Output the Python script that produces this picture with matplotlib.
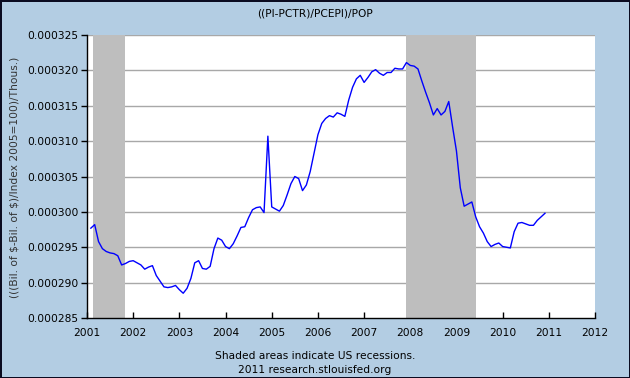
import numpy as np
import pandas as pd
import matplotlib
matplotlib.use("Agg")
import matplotlib.pyplot as plt

# Monthly values, Feb 2001 - Dec 2010
months = pd.period_range("2001-02", "2010-12", freq="M")
values = [
    297.7, 298.2, 295.8, 294.8, 294.4, 294.2, 294.1, 293.8, 292.5, 292.7, 293.0,
    293.1, 292.8, 292.5, 291.9, 292.2, 292.4, 291.0, 290.2, 289.4, 289.3, 289.4, 289.6,
    289.0, 288.5, 289.2, 290.6, 292.8, 293.1, 292.0, 291.9, 292.3, 294.8, 296.3, 296.0,
    295.1, 294.8, 295.5, 296.6, 297.8, 297.9, 299.2, 300.3, 300.6, 300.7, 299.9, 310.7,
    300.7, 300.4, 300.1, 300.9, 302.4, 304.0, 305.0, 304.7, 303.0, 303.8, 305.7, 308.3,
    310.9, 312.5, 313.2, 313.6, 313.4, 314.0, 313.8, 313.5, 315.8, 317.6, 318.8, 319.3,
    318.3, 319.0, 319.8, 320.1, 319.6, 319.3, 319.7, 319.7, 320.3, 320.2, 320.2, 321.1,
    320.7, 320.6, 320.2, 318.5, 316.9, 315.4, 313.7, 314.6, 313.7, 314.2, 315.6, 312.0,
    308.6, 303.4, 300.8, 301.1, 301.4, 299.3, 297.9, 297.0, 295.8, 295.1, 295.4, 295.6,
    295.1, 295.0, 294.9, 297.2, 298.4, 298.5, 298.3, 298.1, 298.1, 298.8, 299.3, 299.8,
]
values = np.array(values) * 1e-6

# Recessions (decimal years)
recessions = [(2001.12, 2001.83), (2007.9, 2009.42)]

year_ticks = list(range(2001, 2013))
y_ticks = [0.000285, 0.000290, 0.000295, 0.000300, 0.000305,
           0.000310, 0.000315, 0.000320, 0.000325]

x = months.year + (months.month - 1) / 12.0

bg = "#B3CDE3"
fig = plt.figure(figsize=(6.3, 3.78), dpi=100, facecolor=bg)
fig.patch.set_edgecolor("#0B0B20")
fig.patch.set_linewidth(2)

ax = fig.add_axes([87 / 630, 1 - 318 / 378, (595 - 87) / 630, (318 - 35) / 378])
ax.set_facecolor("white")

ax.set_xlim(2001, 2012)
ax.set_ylim(0.000285, 0.000325)

# grid lines, covered by recession shading
for yv in y_ticks[1:]:
    ax.axhline(yv, color="#A8A8A8", lw=1, zorder=1)
for start, end in recessions:
    ax.axvspan(start, end, color="#BEBEBE", lw=0, zorder=2)

ax.plot(x, values, color="#0000FF", lw=1, zorder=3)

ax.set_xticks(year_ticks)
ax.set_xticklabels([str(y) for y in year_ticks])
ax.set_yticks(y_ticks)
ax.set_yticklabels(["%.6f" % v for v in y_ticks])

ax.tick_params(axis="x", direction="in", length=4, width=1, pad=7,
               labelsize=7.7, colors="black")
ax.tick_params(axis="y", direction="out", length=4, width=1, pad=2,
               labelsize=7.7, colors="black")

for side in ["top", "right"]:
    ax.spines[side].set_visible(False)
for side in ["left", "bottom"]:
    ax.spines[side].set_color("black")
    ax.spines[side].set_linewidth(1)

fig.text(0.5, 1 - 13 / 378, "((PI-PCTR)/PCEPI)/POP", ha="center", va="center",
         fontsize=7.7)
fig.text(15 / 630, 1 - 177 / 378, r"(((Bil. of \$-Bil. of \$)/Index 2005=100)/Thous.)",
         rotation=90, ha="center", va="center", fontsize=7.7, color="#333333")
fig.text(0.5, 1 - 356 / 378, "Shaded areas indicate US recessions.",
         ha="center", va="center", fontsize=7.7)
fig.text(0.5, 1 - 370 / 378, "2011 research.stlouisfed.org",
         ha="center", va="center", fontsize=7.7)

fig.savefig("out.png", dpi=100, facecolor=bg, edgecolor=fig.patch.get_edgecolor())
